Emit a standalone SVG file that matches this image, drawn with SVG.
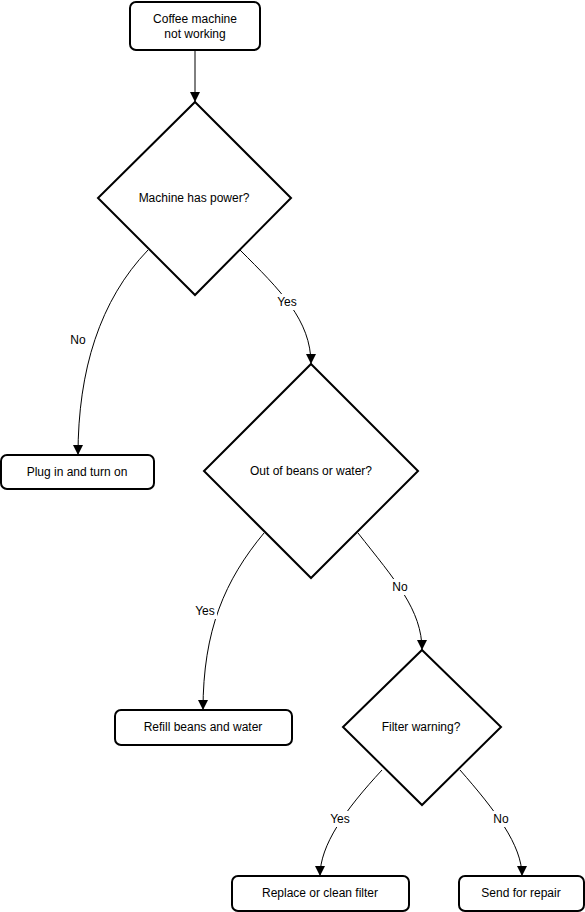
<svg xmlns="http://www.w3.org/2000/svg" width="585" height="912" viewBox="0 0 585 912">
<style>
.n{fill:#fff;stroke:#000;stroke-width:2}
.t{font-family:"Liberation Sans",Arial,sans-serif;font-size:12px;fill:#000;text-anchor:middle;dominant-baseline:central}
.c{fill:none;stroke:#000;stroke-width:1}
.lb{fill:#fff}
</style>
<defs>
<marker id="ah" viewBox="0 0 10 10" refX="10" refY="5" markerWidth="10" markerHeight="10" markerUnits="userSpaceOnUse" orient="auto">
<path d="M0,0 L10,5 L0,10 Z" fill="#000"/>
</marker>
</defs>
<rect width="585" height="912" fill="#fff"/>
<g id="connectors">
<path class="c" d="M195,50 L195,102" marker-end="url(#ah)"/>
<path class="c" d="M148,250 C100,300 78,370 78,455" marker-end="url(#ah)"/>
<path class="c" d="M240,250 C280,290 311,320 311,364" marker-end="url(#ah)"/>
<path class="c" d="M264,533 C225,580 203,630 203,710" marker-end="url(#ah)"/>
<path class="c" d="M358,533 C395,580 422,610 422,650" marker-end="url(#ah)"/>
<path class="c" d="M382,770 C345,810 320,845 320,876" marker-end="url(#ah)"/>
<path class="c" d="M460,770 C495,810 522,845 522,876" marker-end="url(#ah)"/>
<g id="labels">
<rect class="lb" x="66" y="332" width="24" height="16"/><text class="t" x="78" y="340">No</text>
<rect class="lb" x="275" y="294" width="24" height="16"/><text class="t" x="287" y="302">Yes</text>
<rect class="lb" x="193" y="603" width="24" height="16"/><text class="t" x="205" y="611">Yes</text>
<rect class="lb" x="389" y="579" width="22" height="16"/><text class="t" x="400" y="587">No</text>
<rect class="lb" x="328" y="811" width="24" height="16"/><text class="t" x="340" y="819">Yes</text>
<rect class="lb" x="490" y="811" width="22" height="16"/><text class="t" x="501" y="819">No</text>
</g>
</g>
<g id="start">
<rect class="n" x="130" y="2" width="130" height="48" rx="6"/>
<text class="t" x="195" y="19">Coffee machine</text>
<text class="t" x="195" y="34">not working</text>
</g>
<g id="d1">
<polygon class="n" points="195,102 291,198 195,295 98,198"/>
<text class="t" x="194" y="198">Machine has power?</text>
</g>
<g id="plug">
<rect class="n" x="1" y="455" width="153" height="34" rx="6"/>
<text class="t" x="77" y="472">Plug in and turn on</text>
</g>
<g id="d2">
<polygon class="n" points="311,364 418,471 311,578 204,471"/>
<text class="t" x="311" y="471">Out of beans or water?</text>
</g>
<g id="refill">
<rect class="n" x="115" y="710" width="177" height="35" rx="6"/>
<text class="t" x="203" y="727">Refill beans and water</text>
</g>
<g id="d3">
<polygon class="n" points="422,650 501,727 422,805 343,727"/>
<text class="t" x="421" y="727">Filter warning?</text>
</g>
<g id="replace">
<rect class="n" x="232" y="876" width="177" height="35" rx="6"/>
<text class="t" x="320" y="893">Replace or clean filter</text>
</g>
<g id="repair">
<rect class="n" x="459" y="876" width="125" height="35" rx="6"/>
<text class="t" x="521" y="893">Send for repair</text>
</g>
</svg>
